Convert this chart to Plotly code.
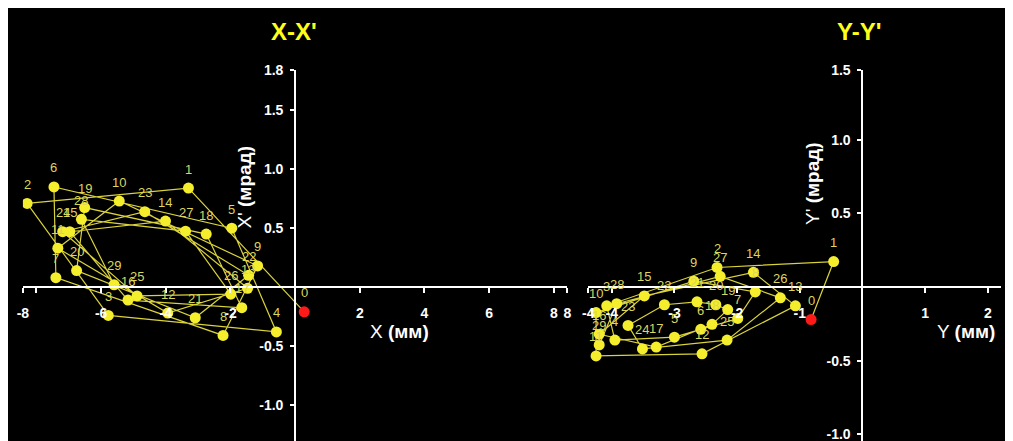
import plotly.graph_objects as go

# ---------------- data ----------------
labels = list(range(30))
x_mm = [0.28, -3.30, -8.29, -5.78, -0.58, -1.96, -7.46, -7.40, -2.23, -1.16,
        -5.44, -7.34, -3.94, -1.47, -4.01, -6.97, -5.17, -1.65, -2.75, -6.51,
        -6.76, -3.09, -1.44, -4.65, -7.19, -4.89, -1.99, -3.39, -6.61, -5.60]
xp_mrad = [-0.21, 0.84, 0.71, -0.24, -0.38, 0.50, 0.85, 0.08, -0.41, 0.18,
           0.73, 0.33, -0.22, -0.01, 0.56, 0.47, -0.11, -0.175, 0.45, 0.675,
           0.14, -0.26, 0.10, 0.64, 0.47, -0.075, -0.06, 0.475, 0.575, 0.02]
y_mm = [-0.82, -0.46, -2.32, -4.08, -3.95, -3.00, -2.58, -1.99, -1.71, -2.69,
        -4.25, -4.25, -2.56, -1.07, -1.74, -3.48, -4.20, -3.29, -2.40, -2.15,
        -2.34, -2.64, -3.16, -3.74, -3.51, -2.16, -1.31, -2.27, -3.92, -4.20]
yp_mrad = [-0.22, 0.173, 0.133, -0.127, -0.36, -0.34, -0.287, -0.213, -0.033, 0.04,
           -0.173, -0.467, -0.453, -0.127, 0.10, -0.06, -0.32, -0.407, -0.253, -0.153,
           -0.12, -0.10, -0.12, -0.26, -0.42, -0.36, -0.073, 0.073, -0.113, -0.393]

# axis ticks (values and their texts)
x1_range = [-8.42, 8.42]
x1_tickvals = [-8.42, -8, -6, -4, -2, 2, 4, 6, 8, 8.42]
x1_ticktext = ["-8", "", "-6", "-4", "-2", "2", "4", "6", "8", "8"]
y1_range = [-1.45, 1.842]
y1_tickvals = [1.842, 1.5, 1.0, 0.5, -0.5, -1.0]
y1_ticktext = ["1.8", "1.5", "1.0", "0.5", "-0.5", "-1.0"]
x2_range = [-4.376, 2.21]
x2_tickvals = [-4.376, -4, -3, -2, -1, 1, 2]
x2_ticktext = ["-4", "-4", "-3", "-2", "-1", "1", "2"]
y2_range = [-1.16, 1.473]
y2_tickvals = [1.473, 1.0, 0.5, -0.5, -1.0]
y2_ticktext = ["1.5", "1.0", "0.5", "-0.5", "-1.0"]

# ---------------- style ----------------
YEL = "#f5ee2c"
LINE = "#d9d23a"
LAB = "#dcd55e"
RED = "#ff1a1a"
WHITE = "#ffffff"
FONT = "Liberation Sans, Arial, sans-serif"

fig = go.Figure()


def add_phase(xs, ys, xa, ya):
    colors = [RED] + [YEL] * (len(xs) - 1)
    fig.add_trace(go.Scatter(
        x=xs, y=ys, xaxis=xa, yaxis=ya, mode="lines+markers",
        line=dict(color=LINE, width=1.2),
        marker=dict(color=colors, size=11, line=dict(width=0)),
        showlegend=False, hoverinfo="skip"))
    for lab, xv, yv in zip(labels, xs, ys):
        fig.add_annotation(x=xv, y=yv, xref=xa, yref=ya, text=str(lab),
                           showarrow=False, yshift=19,
                           xanchor="center", yanchor="middle",
                           font=dict(family=FONT, size=13, color=LAB))


add_phase(x_mm, xp_mrad, "x", "y")
add_phase(y_mm, yp_mrad, "x2", "y2")

axis_common = dict(showgrid=False, zeroline=False, showline=True,
                   linecolor=WHITE, linewidth=2, ticks="outside",
                   tickcolor=WHITE, tickwidth=2, tickmode="array",
                   tickfont=dict(family=FONT, size=14, color=WHITE, weight="bold"),
                   fixedrange=True)

W, H = 997, 450
fig.update_layout(
    width=W, height=H,
    margin=dict(l=0, r=0, t=0, b=0),
    paper_bgcolor="black", plot_bgcolor="rgba(0,0,0,0)",
    xaxis=dict(axis_common, domain=[9 / W, 559 / W], range=x1_range,
               tickvals=x1_tickvals, ticktext=x1_ticktext,
               anchor="free", position=1 - 276 / H, ticklen=5,
               ticklabelstandoff=8),
    yaxis=dict(axis_common, domain=[0, 1 - 55 / H], range=y1_range,
               tickvals=y1_tickvals, ticktext=y1_ticktext,
               anchor="free", position=284 / W, ticklen=4,
               ticklabelstandoff=4),
    xaxis2=dict(axis_common, domain=[580 / W, 1.0], range=x2_range,
                tickvals=x2_tickvals, ticktext=x2_ticktext,
                anchor="free", position=1 - 276 / H, ticklen=5,
                ticklabelstandoff=8),
    yaxis2=dict(axis_common, domain=[0, 1 - 55 / H], range=y2_range,
                tickvals=y2_tickvals, ticktext=y2_ticktext,
                anchor="free", position=857 / W, ticklen=4,
                ticklabelstandoff=4),
)


def paper_text(px, py, text, size, color, angle=0):
    fig.add_annotation(x=px / W, y=1 - py / H, xref="paper", yref="paper",
                       text=text, showarrow=False, textangle=angle,
                       xanchor="center", yanchor="middle",
                       font=dict(family=FONT, size=size, color=color))


# titles
paper_text(283, 16, "<b>X-X'</b>", 24, "#ffff1a")
paper_text(854, 16, "<b>Y-Y'</b>", 24, "#ffff1a")
# axis titles
paper_text(389, 321, "X <b>(мм)</b>", 19, WHITE)
paper_text(962, 321, "Y <b>(мм)</b>", 19, WHITE)
paper_text(233, 174, "X' <b>(мрад)</b>", 19, WHITE, -90)
paper_text(807, 170, "Y' <b>(мрад)</b>", 19, WHITE, -90)

fig.write_html("out.html")
